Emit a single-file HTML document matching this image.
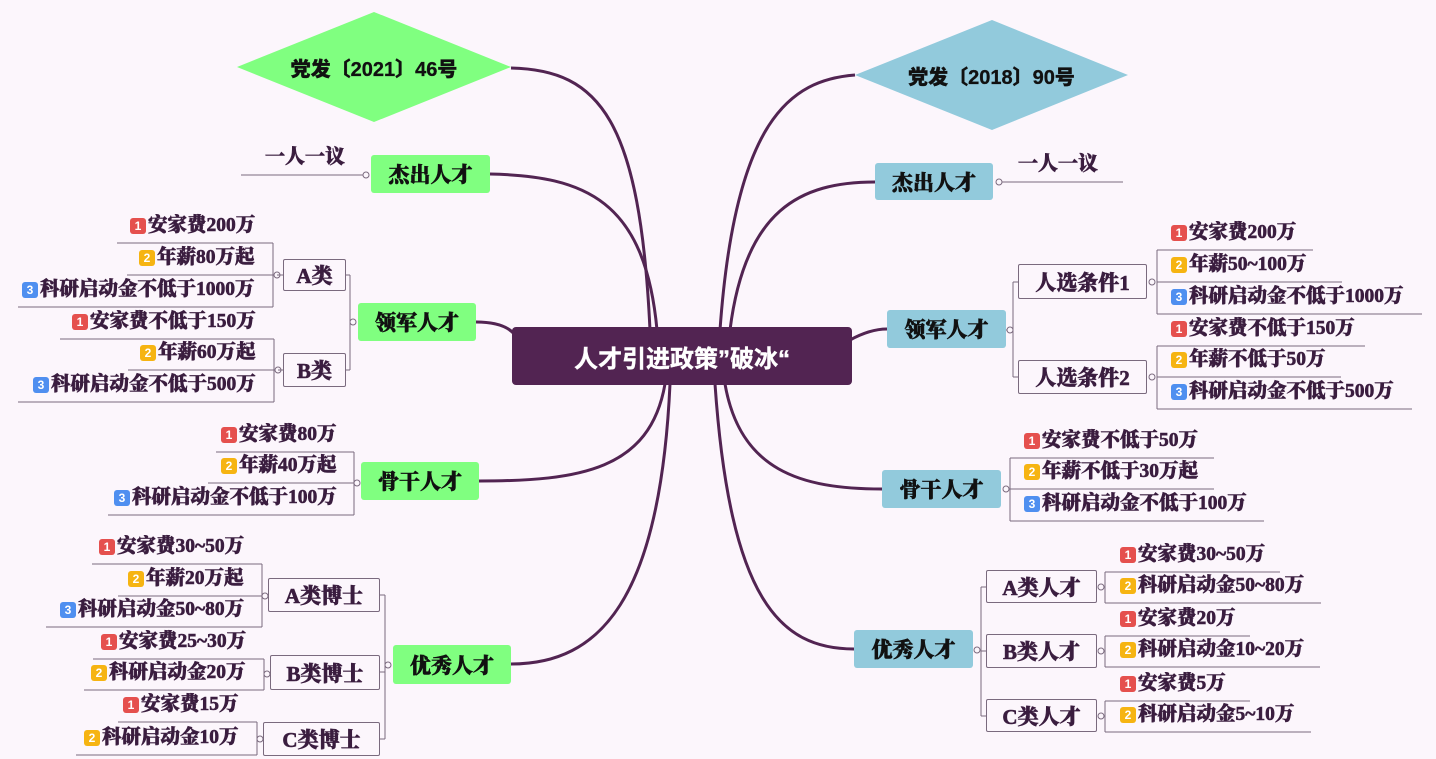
<!DOCTYPE html>
<html><head><meta charset="utf-8"><style>
body{margin:0;width:1436px;height:759px;background:#fcf6fc;position:relative;overflow:hidden;font-family:"Liberation Serif","Noto Serif CJK SC",serif;color:#3a1d3f}
.t{position:absolute;font-weight:900;font-size:19.5px;white-space:nowrap;line-height:22px;height:22px;display:flex;align-items:center;-webkit-text-stroke:0.6px #3a1d3f}
.b{display:inline-block;width:16px;height:16px;border-radius:3px;color:#fff;font:bold 12px "Liberation Sans",sans-serif;text-align:center;line-height:16px;margin-right:2px;-webkit-text-stroke:0}
.n1{background:#e5504e}.n2{background:#f6b412}.n3{background:#4f8ff0}
.box{position:absolute;box-sizing:border-box;display:flex;align-items:center;justify-content:center;font-weight:900;white-space:nowrap;-webkit-text-stroke:0.6px currentColor}
.g{background:#80ff80;border-radius:3px;font-size:21px;color:#111}
.bl{background:#92cadc;border-radius:3px;font-size:21px;color:#111}
.w{background:#fcf6fc;border:1px solid #7a6a7e;border-radius:2px;font-size:21px}
svg{position:absolute;left:0;top:0}
</style></head><body>
<svg width="1436" height="759" id="s">
<polygon points="237,67 374,12 511,67 374,122" fill="#80ff80"/>
<polygon points="855,75 992,20 1128,75 992,130" fill="#92cadc"/>
<g fill="none" stroke="#522452" stroke-width="3">
<path d="M650 330 C640 120,600 70,511 68"/>
<path d="M657 330 C645 200,585 176,490 174"/>
<path d="M515 335 Q505 322,476 322"/>
<path d="M665 384 C650 470,580 481,479 481"/>
<path d="M670 384 C660 600,600 664,511 664"/>
<path d="M720 330 C735 120,790 80,855 75"/>
<path d="M730 330 C745 210,800 182,875 182"/>
<path d="M850 340 Q870 329,887 329"/>
<path d="M725 384 C740 470,800 489,882 489"/>
<path d="M715 384 C730 600,780 649,854 649"/>
</g>
<g id="th" fill="none" stroke="#7a6a7e" stroke-width="1"></g>
</svg>
<div class="box" style="left:512px;top:327px;width:340px;height:58px;background:#522452;border-radius:4px;color:#fff;font:bold 24px 'Liberation Sans','Noto Sans CJK SC',sans-serif;-webkit-text-stroke:0.4px #fff">人才引进政策”破冰“</div>
<div class="box" style="left:237px;top:50px;width:274px;height:34px;font-size:20px;color:#111;font-family:'Liberation Sans','Noto Sans CJK SC',sans-serif;-webkit-text-stroke:0.3px #111">党发〔2021〕46号</div>
<div class="box" style="left:855px;top:58px;width:273px;height:34px;font-size:20px;color:#111;font-family:'Liberation Sans','Noto Sans CJK SC',sans-serif;-webkit-text-stroke:0.3px #111">党发〔2018〕90号</div>
<div class="box g" style="left:371px;top:155px;width:119px;height:38px">杰出人才</div>
<div class="box g" style="left:358px;top:303px;width:118px;height:38px">领军人才</div>
<div class="box g" style="left:361px;top:462px;width:118px;height:38px">骨干人才</div>
<div class="box g" style="left:393px;top:645px;width:118px;height:39px">优秀人才</div>
<div class="box bl" style="left:875px;top:163px;width:118px;height:37px">杰出人才</div>
<div class="box bl" style="left:887px;top:310px;width:119px;height:38px">领军人才</div>
<div class="box bl" style="left:882px;top:470px;width:119px;height:38px">骨干人才</div>
<div class="box bl" style="left:854px;top:630px;width:119px;height:38px">优秀人才</div>
<div class="box w" style="left:283px;top:259px;width:63px;height:32px">A类</div>
<div class="box w" style="left:283px;top:353px;width:63px;height:34px">B类</div>
<div class="box w" style="left:268px;top:578px;width:112px;height:34px">A类博士</div>
<div class="box w" style="left:270px;top:655px;width:110px;height:35px">B类博士</div>
<div class="box w" style="left:263px;top:722px;width:117px;height:34px">C类博士</div>
<div class="box w" style="left:1018px;top:264px;width:129px;height:35px">人选条件1</div>
<div class="box w" style="left:1018px;top:360px;width:129px;height:34px">人选条件2</div>
<div class="box w" style="left:986px;top:570px;width:111px;height:33px">A类人才</div>
<div class="box w" style="left:986px;top:634px;width:111px;height:34px">B类人才</div>
<div class="box w" style="left:986px;top:699px;width:111px;height:33px">C类人才</div>
<script>
var th=document.getElementById('th'),NS='http://www.w3.org/2000/svg';
function ln(x1,y1,x2,y2){var l=document.createElementNS(NS,'line');l.setAttribute('x1',x1);l.setAttribute('y1',y1);l.setAttribute('x2',x2);l.setAttribute('y2',y2);th.appendChild(l);}
function cir(x,y){var c=document.createElementNS(NS,'circle');c.setAttribute('cx',x);c.setAttribute('cy',y);c.setAttribute('r',3);c.setAttribute('fill','#fcf6fc');th.appendChild(c);}
function txt(side,x,cy,n,s){var d=document.createElement('div');d.className='t';d.innerHTML=(n?'<span class="b n'+n+'">'+n+'</span>':'')+s;d.style.top=(cy-11)+'px';document.body.appendChild(d);
 if(side=='L'){d.style.left=(x-d.offsetWidth)+'px';}else d.style.left=x+'px';}
function grp(side,tx,bx,items,c){var ys=items.map(i=>i[2]);ln(bx,Math.min.apply(0,ys),bx,Math.max.apply(0,ys));
 items.forEach(i=>{txt(side,tx,i[2]-17,i[0],i[1]);ln(i[3],i[2],bx,i[2]);});cir(c[0],c[1]);}
grp('L',255,273,[[1,'安家费200万',243,117],[2,'年薪80万起',275,127],[3,'科研启动金不低于1000万',307,18]],[277,275]);ln(277,275,283,275);
grp('L',256,274,[[1,'安家费不低于150万',339,60],[2,'年薪60万起',370,128],[3,'科研启动金不低于500万',402,18]],[278,370]);ln(278,370,283,370);
ln(346,275,350,275);ln(346,370,350,370);ln(350,275,350,370);cir(353,322);
txt('L',345,157,0,'<span style="font-size:20px">一人一议</span>');ln(241,175,363,175);cir(366,175);
grp('L',337,354,[[1,'安家费80万',452,216],[2,'年薪40万起',483,208],[3,'科研启动金不低于100万',515,108]],[357,483]);
grp('L',244,262,[[1,'安家费30~50万',564,92],[2,'年薪20万起',596,118],[3,'科研启动金50~80万',627,46]],[265,596]);
grp('L',246,264,[[1,'安家费25~30万',659,93],[2,'科研启动金20万',690,84]],[267,674]);
grp('L',239,257,[[1,'安家费15万',722,118],[2,'科研启动金10万',755,76]],[260,739]);
ln(380,595,385,595);ln(380,672,385,672);ln(380,739,385,739);ln(385,595,385,739);cir(388,665);
txt('R',1018,164,0,'<span style="font-size:20px">一人一议</span>');ln(1002,182,1123,182);cir(999,182);
grp('R',1171,1157,[[1,'安家费200万',250,1313],[2,'年薪50~100万',282,1342],[3,'科研启动金不低于1000万',314,1422]],[1152,282]);
grp('R',1171,1157,[[1,'安家费不低于150万',346,1365],[2,'年薪不低于50万',377,1341],[3,'科研启动金不低于500万',409,1412]],[1152,377]);
ln(1006,330,1013,330);ln(1013,282,1013,377);ln(1013,282,1018,282);ln(1013,377,1018,377);cir(1010,330);
grp('R',1024,1010,[[1,'安家费不低于50万',458,1214],[2,'年薪不低于30万起',489,1214],[3,'科研启动金不低于100万',521,1264]],[1006,489]);
grp('R',1120,1105,[[1,'安家费30~50万',572,1280],[2,'科研启动金50~80万',603,1321]],[1101,587]);
grp('R',1120,1105,[[1,'安家费20万',636,1250],[2,'科研启动金10~20万',667,1320]],[1101,651]);
grp('R',1120,1105,[[1,'安家费5万',701,1250],[2,'科研启动金5~10万',732,1311]],[1101,716]);
ln(981,587,986,587);ln(981,651,986,651);ln(981,716,986,716);ln(981,587,981,716);cir(977,650);
</script>
</body></html>
